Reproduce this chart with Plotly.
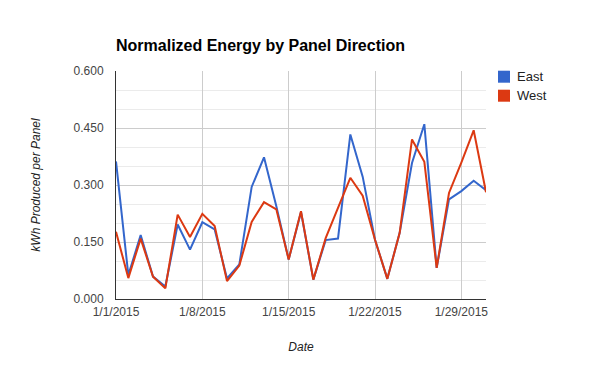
import plotly.graph_objects as go

dates = ["2015-01-01", "2015-01-02", "2015-01-03", "2015-01-04", "2015-01-05",
         "2015-01-06", "2015-01-07", "2015-01-08", "2015-01-09", "2015-01-10",
         "2015-01-11", "2015-01-12", "2015-01-13", "2015-01-14", "2015-01-15",
         "2015-01-16", "2015-01-17", "2015-01-18", "2015-01-19", "2015-01-20",
         "2015-01-21", "2015-01-22", "2015-01-23", "2015-01-24", "2015-01-25",
         "2015-01-26", "2015-01-27", "2015-01-28", "2015-01-29", "2015-01-30",
         "2015-01-31"]
east = [0.362, 0.063, 0.168, 0.059, 0.033, 0.196, 0.130, 0.202, 0.183, 0.054,
        0.091, 0.295, 0.373, 0.244, 0.104, 0.229, 0.051, 0.155, 0.159, 0.433,
        0.322, 0.156, 0.053, 0.174, 0.358, 0.460, 0.082, 0.262, 0.284, 0.311,
        0.286]
west = [0.177, 0.055, 0.159, 0.059, 0.028, 0.222, 0.163, 0.224, 0.192, 0.047,
        0.088, 0.203, 0.255, 0.236, 0.104, 0.231, 0.051, 0.160, 0.240, 0.319,
        0.272, 0.156, 0.053, 0.174, 0.420, 0.361, 0.082, 0.279, 0.359, 0.444,
        0.281]
series_names = ["East", "West"]
series_colors = ["#3366cc", "#dc3912"]
x_tick_vals = ["2015-01-01", "2015-01-08", "2015-01-15", "2015-01-22", "2015-01-29"]
x_tick_text = ["1/1/2015", "1/8/2015", "1/15/2015", "1/22/2015", "1/29/2015"]
y_tick_vals = [0.0, 0.15, 0.30, 0.45, 0.60]

FONT = "Liberation Sans, Arial, sans-serif"

# The page body has an 8px margin; lay out in page pixels and compensate.
OFF = 8
FIG_W, FIG_H = 600 - OFF, 371 - OFF
L, R, T, B = 116 - OFF, 486 - OFF, 71 - OFF, 299 - OFF
W, H = R - L, B - T


def px(x):
    return (x - OFF - L) / W


def py(y):
    return (B - (y - OFF)) / H


fig = go.Figure()
for name, vals, col in zip(series_names, [east, west], series_colors):
    fig.add_trace(go.Scatter(x=dates, y=vals, mode="lines", name=name,
                             line=dict(color=col, width=2), showlegend=False))

# Legend (squares + labels), positioned in paper coordinates
legend_y = [76.7, 95.7]
for name, col, cy in zip(series_names, series_colors, legend_y):
    fig.add_shape(type="rect", xref="paper", yref="paper",
                  x0=px(498), x1=px(510), y0=py(cy + 6), y1=py(cy - 6),
                  fillcolor=col, line=dict(width=0))
    fig.add_annotation(xref="paper", yref="paper", x=px(515), y=py(cy),
                       text=name, showarrow=False, xanchor="left", yanchor="middle",
                       font=dict(family=FONT, size=13, color="#222222"))

fig.update_layout(
    width=FIG_W, height=FIG_H,
    margin=dict(l=L, r=FIG_W - R, t=T, b=FIG_H - B),
    paper_bgcolor="white", plot_bgcolor="white",
    title=dict(text="<b>Normalized Energy by Panel Direction</b>",
               x=L / FIG_W, xanchor="left", xref="container",
               y=1 - (45.5 - OFF) / FIG_H, yanchor="middle",
               font=dict(family=FONT, size=16, color="#000000")),
    font=dict(family=FONT, size=12, color="#444444"),
    xaxis=dict(range=[dates[0], dates[-1]], tickvals=x_tick_vals, ticktext=x_tick_text,
               showgrid=True, gridcolor="#cccccc", gridwidth=1,
               showline=True, linecolor="#333333", linewidth=1,
               ticks="", zeroline=False, ticklabelstandoff=2,
               tickfont=dict(family=FONT, size=12, color="#444444"),
               title=dict(text="Date", standoff=24,
                          font=dict(family=FONT, size=12, color="#222222", style="italic"))),
    yaxis=dict(range=[0, 0.6], tickvals=y_tick_vals, tickformat=".3f",
               showgrid=True, gridcolor="#cccccc", gridwidth=1,
               minor=dict(dtick=0.05, showgrid=True, gridcolor="#ebebeb", gridwidth=1),
               showline=True, linecolor="#333333", linewidth=1,
               ticks="", zeroline=False, ticklabelstandoff=9,
               tickfont=dict(family=FONT, size=12, color="#444444"),
               title=dict(text="kWh Produced per Panel", standoff=30,
                          font=dict(family=FONT, size=12, color="#222222", style="italic"))),
)

fig.write_html("out.html")
